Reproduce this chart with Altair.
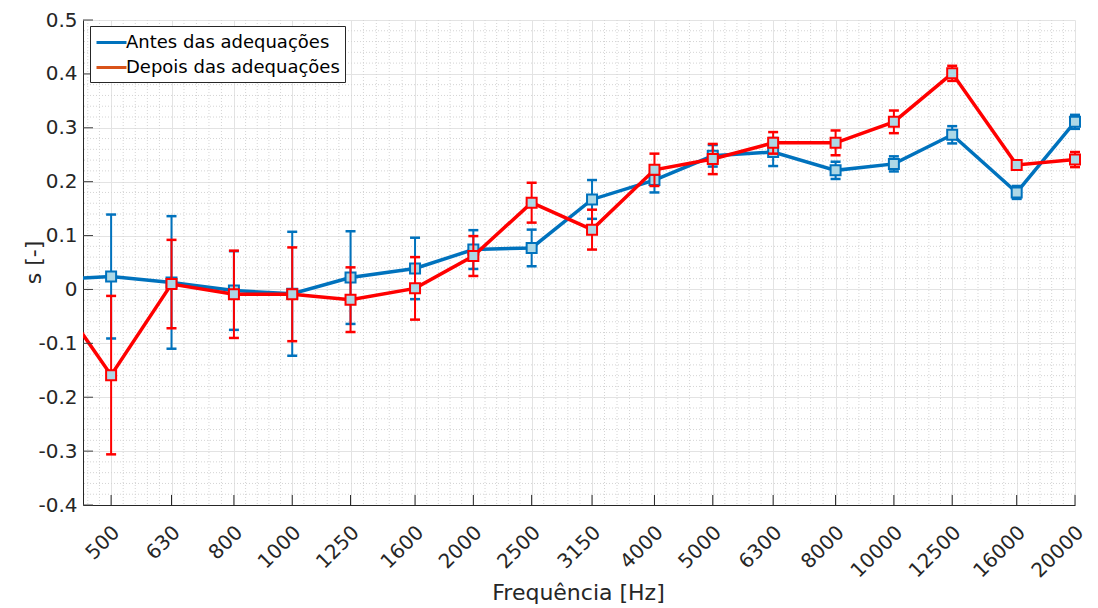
import altair as alt
import pandas as pd
import numpy as np

# ---------------- data ----------------
freq = [400, 500, 630, 800, 1000, 1250, 1600, 2000, 2500, 3150, 4000,
        5000, 6300, 8000, 10000, 12500, 16000, 20000]
tick_freq = [500, 630, 800, 1000, 1250, 1600, 2000, 2500, 3150, 4000,
             5000, 6300, 8000, 10000, 12500, 16000, 20000]

antes = [0.018, 0.024, 0.013, -0.002, -0.008, 0.022, 0.039, 0.074, 0.077,
         0.167, 0.203, 0.248, 0.255, 0.221, 0.233, 0.287, 0.180, 0.311]
antes_err = [0.0, 0.115, 0.123, 0.073, 0.115, 0.086, 0.057, 0.036, 0.034,
             0.036, 0.023, 0.020, 0.026, 0.016, 0.014, 0.016, 0.012, 0.013]

depois = [-0.003, -0.159, 0.010, -0.009, -0.009, -0.019, 0.002, 0.062, 0.161,
          0.111, 0.222, 0.242, 0.272, 0.272, 0.311, 0.401, 0.231, 0.241]
depois_err = [0.0, 0.147, 0.082, 0.081, 0.087, 0.060, 0.058, 0.037, 0.037,
              0.037, 0.030, 0.028, 0.020, 0.023, 0.021, 0.014, 0.008, 0.014]

series_names = ["Antes das adequações", "Depois das adequações"]
line_colors = ["#0072BD", "#FF0000"]
legend_colors = ["#0072BD", "#D95319"]
y_ticks = [-0.4, -0.3, -0.2, -0.1, 0.0, 0.1, 0.2, 0.3, 0.4, 0.5]

FONT = "DejaVu Sans"
W, H = 992, 485

# ---------------- scales / axes ----------------
xscale = alt.Scale(type="log", domain=[449, 20000], nice=False)
yscale = alt.Scale(domain=[-0.4, 0.5], nice=False, zero=False)

xaxis = alt.Axis(
    values=tick_freq, format="d", title="Frequência [Hz]",
    labelAngle=315, labelAlign="right", labelBaseline="middle",
    labelPadding=24, labelOffset=5, ticks=False, tickSize=0,
    grid=True, labelOverlap=False, labelBound=False,
    titleX=495, titleY=87, titleAlign="center", titleBaseline="middle",
)
yaxis = alt.Axis(
    values=y_ticks, title="s [-]",
    labelExpr="abs(datum.value) < 1e-9 ? '0' : (datum.value < 0 ? '-' + format(-datum.value, '.1f') : format(datum.value, '.1f'))",
    labelPadding=6, ticks=False, tickSize=0, grid=True, labelOverlap=False,
    titleX=-50, titleY=242, titleAlign="center", titleBaseline="middle",
    titleAngle=270,
)


def X(field):
    return alt.X(field, type="quantitative", scale=xscale, axis=xaxis)


def Y(field):
    return alt.Y(field, type="quantitative", scale=yscale, axis=yaxis)


# ---------------- minor grid ----------------
minor_x = []
for a, b in zip(freq[:-1], freq[1:]):
    for k in range(1, 5):
        minor_x.append(10 ** (np.log10(a) + (np.log10(b) - np.log10(a)) * k / 5))
minor_x_df = pd.DataFrame({"f": minor_x})
minor_y = [round(v, 2) for v in np.arange(-0.4, 0.5001, 0.02)
           if abs(round(v * 10) - v * 10) > 1e-6]
minor_y_df = pd.DataFrame({"v": minor_y})

grid_x = alt.Chart(minor_x_df).mark_rule(
    stroke="#d4d4d4", strokeWidth=1, strokeDash=[1, 2], clip=True
).encode(x=X("f"))
grid_y = alt.Chart(minor_y_df).mark_rule(
    stroke="#d4d4d4", strokeWidth=1, strokeDash=[1, 2]
).encode(y=Y("v"))

# inner ticks
tx_df = pd.DataFrame({"f": tick_freq})
ty_df = pd.DataFrame({"v": y_ticks})
ticks_x = alt.Chart(tx_df).mark_rule(color="#262626", strokeWidth=1).encode(
    x=X("f"), y=alt.value(H), y2=alt.value(H - 10))
ticks_y = alt.Chart(ty_df).mark_rule(color="#404040", strokeWidth=1).encode(
    y=Y("v"), x=alt.value(0), x2=alt.value(10))

# legend-only layer (clipped outside the domain)
leg_df = pd.DataFrame({
    "f": [100, 110, 100, 110],
    "v": [0, 0, 0, 0],
    "serie": [series_names[0], series_names[0], series_names[1], series_names[1]],
})
legend_layer = alt.Chart(leg_df).mark_line(strokeWidth=3, clip=True).encode(
    x=X("f"), y=Y("v"),
    stroke=alt.Stroke(
        "serie:N",
        scale=alt.Scale(domain=series_names, range=legend_colors),
        legend=alt.Legend(
            title=None, orient="none", legendX=7, legendY=6,
            symbolType="M-1,0L2,0", symbolSize=400, symbolStrokeWidth=3,
            symbolFillColor="transparent",
            labelFont=FONT, labelFontSize=18, labelColor="#000000",
            labelLimit=0, labelOffset=8, rowPadding=4, padding=5,
            strokeColor="#262626", fillColor="#ffffff",
        ),
    ),
)


def series_layers(vals, errs, color):
    d = pd.DataFrame({"f": freq, "v": vals,
                      "lo": [v - e for v, e in zip(vals, errs)],
                      "hi": [v + e for v, e in zip(vals, errs)]})
    de = d[d["f"] >= 500]
    line = alt.Chart(d).mark_line(color=color, strokeWidth=3.5, clip=True).encode(
        x=X("f"), y=Y("v"))
    rule = alt.Chart(de).mark_rule(color=color, strokeWidth=2).encode(
        x=X("f"), y=Y("lo"), y2="hi:Q")
    cap_lo = alt.Chart(de).mark_point(
        shape="M-1,0L1,0", size=100, strokeWidth=2.5, color=color,
        filled=False, opacity=1).encode(x=X("f"), y=Y("lo"))
    cap_hi = alt.Chart(de).mark_point(
        shape="M-1,0L1,0", size=100, strokeWidth=2.5, color=color,
        filled=False, opacity=1).encode(x=X("f"), y=Y("hi"))
    marks = alt.Chart(de).mark_point(
        shape="square", size=100, filled=True, fill="#ADD8E6",
        stroke=color, strokeWidth=2, opacity=1).encode(x=X("f"), y=Y("v"))
    return [line, rule, cap_lo, cap_hi, marks]


layers = [grid_x, grid_y, legend_layer]
layers += series_layers(antes, antes_err, line_colors[0])
layers += series_layers(depois, depois_err, line_colors[1])
layers += [ticks_x, ticks_y]

chart = alt.layer(*layers).resolve_scale(stroke="independent").properties(
    width=W, height=H,
    autosize=alt.AutoSizeParams(type="none"),
    padding={"left": 75, "top": 12, "right": 15, "bottom": 100},
).configure_view(stroke=None).configure_axis(
    domainColor="#262626", domainWidth=1,
    gridColor="#e3e3e3", gridWidth=1,
    labelFont=FONT, labelFontSize=20, labelColor="#262626",
    titleFont=FONT, titleFontSize=22, titleFontWeight="normal",
    titleColor="#262626",
).configure_legend(labelFont=FONT)

chart.save("out.html", embed_options={"renderer": "svg", "actions": False})
